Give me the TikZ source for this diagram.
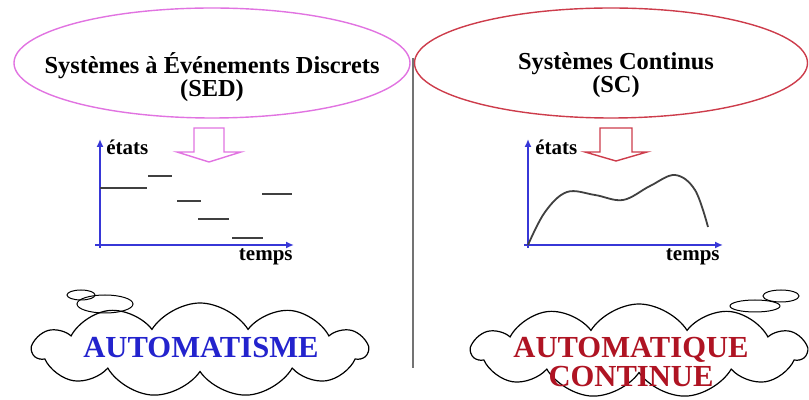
\documentclass[tikz,border=0pt]{standalone}
\usepackage{fontspec}
\setmainfont{Liberation Serif}
\usetikzlibrary{shapes.geometric,shapes.symbols,arrows.meta}

\definecolor{sedpink}{RGB}{225,115,225}
\definecolor{scred}{RGB}{205,60,75}
\definecolor{axisblue}{RGB}{55,55,215}
\definecolor{autoblue}{RGB}{35,35,205}
\definecolor{autored}{RGB}{175,20,35}

\begin{document}
\begin{tikzpicture}[x=0.5pt,y=-0.5pt,
    family/.style={ellipse,draw,line width=0.7pt,minimum height=55pt},
    title/.style={font=\bfseries\fontsize{12.2}{11.5}\selectfont,align=center,inner sep=0pt},
    axis/.style={draw=axisblue,line width=0.8pt,-{Latex[length=4pt,width=3.5pt]}},
    lbl/.style={font=\bfseries\fontsize{10.5}{12}\selectfont,inner sep=0pt},
    level/.style={line width=0.9pt,black!75},
    puff/.style={cloud,cloud puffs=11,cloud puff arc=115,cloud ignores aspect,draw,line width=0.6pt,minimum width=167pt,minimum height=47pt},
    big/.style={font=\bfseries\fontsize{15.3}{14.5}\selectfont,align=center,inner sep=0pt}]
    \useasboundingbox (0,0) rectangle (809,400);

    % Define the two families
    \node[family,draw=sedpink,minimum width=198pt] (sed) at (212,63) {};
    \node[family,draw=scred,minimum width=196.5pt] (sc) at (611,63) {};
    \node[title] (sedtxt) at (212,77) {Systèmes à Événements Discrets\\(SED)};
    \node[title] (sctxt) at (616,75) {Systèmes Continus\\(SC)};

    % Draw the divider
    \coordinate (top) at (413,58);
    \coordinate (bot) at (413,368);
    \draw[line width=1pt,black!55] (top) -- (bot);

    % Draw the block arrows
    \coordinate (sedar) at (209,128);
    \coordinate (scar) at (616,128);
    \draw[sedpink,line width=0.7pt] (sedar) ++(-15,0) -- ++(0,24) -- ++(-17,0) -- ++(32,10) -- ++(32,-10) -- ++(-17,0) -- ++(0,-24) -- cycle;
    \draw[scred,line width=0.7pt] (scar) ++(-16,0) -- ++(0,24) -- ++(-15,0) -- ++(31,9) -- ++(31,-9) -- ++(-15,0) -- ++(0,-24) -- cycle;

    % Discrete states
    \coordinate (oL) at (100,245);
    \coordinate (yL) at (100,139);
    \coordinate (xL) at (294,245);
    \draw[axis] (100,248) -- (yL);
    \draw[axis] (95,245) -- (xL);
    \node[lbl,anchor=west] (etatsL) at (106,147) {états};
    \node[lbl,anchor=east] (tempsL) at (293,257) {temps};
    \draw[level] (oL|-0,188) -- (147,188);
    \draw[level] (148,176) -- (172,176);
    \draw[level] (177,201) -- (201,201);
    \draw[level] (198,219) -- (229,219);
    \draw[level] (232,238) -- (263,238);
    \draw[level] (262,194) -- (292,194);

    % Continuous states
    \coordinate (oR) at (528,245);
    \coordinate (yR) at (528,139);
    \coordinate (xR) at (723,245);
    \draw[axis] (528,248) -- (yR);
    \draw[axis] (524,245) -- (xR);
    \node[lbl,anchor=west] (etatsR) at (535,147) {états};
    \node[lbl,anchor=east] (tempsR) at (720,257) {temps};
    \draw[level] plot[smooth,tension=0.6] coordinates {(oR) (545,212) (567,192) (595,195) (623,200) (650,186) (675,175) (695,190) (708,227)};

    % Clouds
    \node[puff] (sedCloud) at (200,350) {};
    \node[puff] (scCloud) at (639,351) {};
    \node[big,autoblue] (automatisme) at (201,348) {AUTOMATISME};
    \node[big,autored] (automatique) at (631,362) {AUTOMATIQUE\\CONTINUE};

    % Small bubbles
    \draw[line width=0.5pt] (81,295) ellipse (7pt and 2.5pt);
    \draw[line width=0.5pt] (105,304) ellipse (14pt and 4.5pt);
    \draw[line width=0.5pt] (781,296) ellipse (9pt and 3pt);
    \draw[line width=0.5pt] (755,306) ellipse (12.5pt and 3pt);
\end{tikzpicture}
\end{document}
